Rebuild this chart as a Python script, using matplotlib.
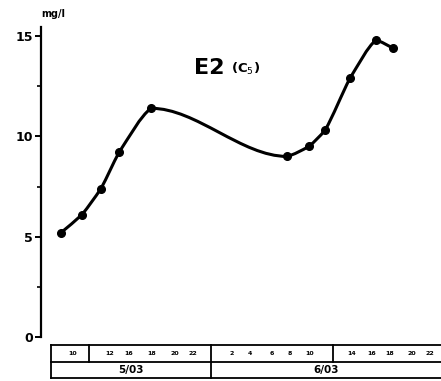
import matplotlib.pyplot as plt
from matplotlib.path import Path
from matplotlib.patches import PathPatch
import numpy as np

# sample positions along the time strip and concentration in mg/l
pos = [20, 41, 60, 78, 110, 246, 268, 284, 309, 335, 352]
conc = [5.2, 6.1, 7.4, 9.2, 11.4, 9.0, 9.5, 10.3, 12.9, 14.8, 14.4]

yticks = [0, 5, 10, 15]
ytick_labels = ["0", "5", "10", "15"]

may_days = ["10", "12", "16", "18", "20", "22"]
june_days = ["2", "4", "6", "8", "10", "14", "16", "18", "20", "22"]
months = ["5/03", "6/03"]


def smooth_path(x, y, t=0.45):
    # hand-drawn look: bezier segments with softened corners
    x = np.asarray(x, float)
    y = np.asarray(y, float)
    h = np.diff(x)
    d = np.diff(y) / h
    m = np.zeros_like(y)
    m[0], m[-1] = d[0], d[-1]
    for i in range(1, len(x) - 1):
        if d[i - 1] * d[i] > 0:
            w1 = 2 * h[i] + h[i - 1]
            w2 = h[i] + 2 * h[i - 1]
            m[i] = (w1 + w2) / (w1 / d[i - 1] + w2 / d[i])
    verts = [(x[0], y[0])]
    codes = [Path.MOVETO]
    for i in range(len(x) - 1):
        m0 = t * m[i] + (1 - t) * d[i]
        m1 = t * m[i + 1] + (1 - t) * d[i]
        if h[i] > 100:
            m0, m1 = m[i], m[i + 1]
        verts += [(x[i] + h[i] / 3, y[i] + m0 * h[i] / 3),
                  (x[i + 1] - h[i] / 3, y[i + 1] - m1 * h[i] / 3),
                  (x[i + 1], y[i + 1])]
        codes += [Path.CURVE4] * 3
    return Path(verts, codes)


fig = plt.figure(figsize=(4.41, 3.81), dpi=100)
ax = fig.add_axes([41 / 441, 44 / 381, 400 / 441, 310 / 381])
ax.set_xlim(0, 400)
ax.set_ylim(0, 15.45)

ax.add_patch(PathPatch(smooth_path(pos, conc), fill=False, lw=2.2, color="black",
                       capstyle="round", joinstyle="round"))
ax.plot(pos, conc, "o", color="black", ms=5.5)

for s in ["top", "right", "bottom"]:
    ax.spines[s].set_visible(False)
ax.spines["left"].set_linewidth(1.6)
ax.set_xticks([])
ax.set_yticks(yticks)
ax.set_yticklabels(ytick_labels, fontsize=9, fontweight="bold")
ax.set_yticks([2.5, 7.5, 12.5], minor=True)
ax.tick_params(axis="y", which="major", length=4, width=1.4, pad=2)
ax.tick_params(axis="y", which="minor", length=3, width=1.2)

fig.text(41 / 441, 1 - 14 / 381, "mg/l", fontsize=7, fontweight="bold", ha="left", va="center")
fig.text(194 / 441, 1 - 68 / 381, "E2", fontsize=16, fontweight="bold", ha="left", va="center")
fig.text(231 / 441, 1 - 69 / 381, "(C$_5$)", fontsize=9.5, fontweight="bold", ha="left", va="center")

# date strip under the plot
tb = fig.add_axes([51 / 441, 3 / 381, 392 / 441, 33 / 381])
tb.set_xlim(51, 443)
tb.set_ylim(0, 2)
tb.axis("off")
kw = dict(color="black", lw=1.3, clip_on=False)
tb.plot([51, 443], [2, 2], **kw)
tb.plot([51, 443], [1, 1], **kw)
tb.plot([51, 443], [0, 0], **kw)
tb.plot([51, 51], [0, 2], **kw)
tb.plot([211, 211], [0, 2], **kw)
tb.plot([89, 89], [1, 2], **kw)
tb.plot([333, 333], [1, 2], **kw)

day_x = [73, 110, 129, 152, 175, 193, 232, 250, 272, 290, 310, 352, 372, 390, 412, 430]
for xx, lab in zip(day_x, may_days + june_days):
    tb.text(xx, 1.5, lab, fontsize=4.5, fontweight="bold", ha="center", va="center")
for xx, lab in zip([131, 326], months):
    tb.text(xx, 0.5, lab, fontsize=7.5, fontweight="bold", ha="center", va="center")

fig.savefig("out.png", dpi=100)
